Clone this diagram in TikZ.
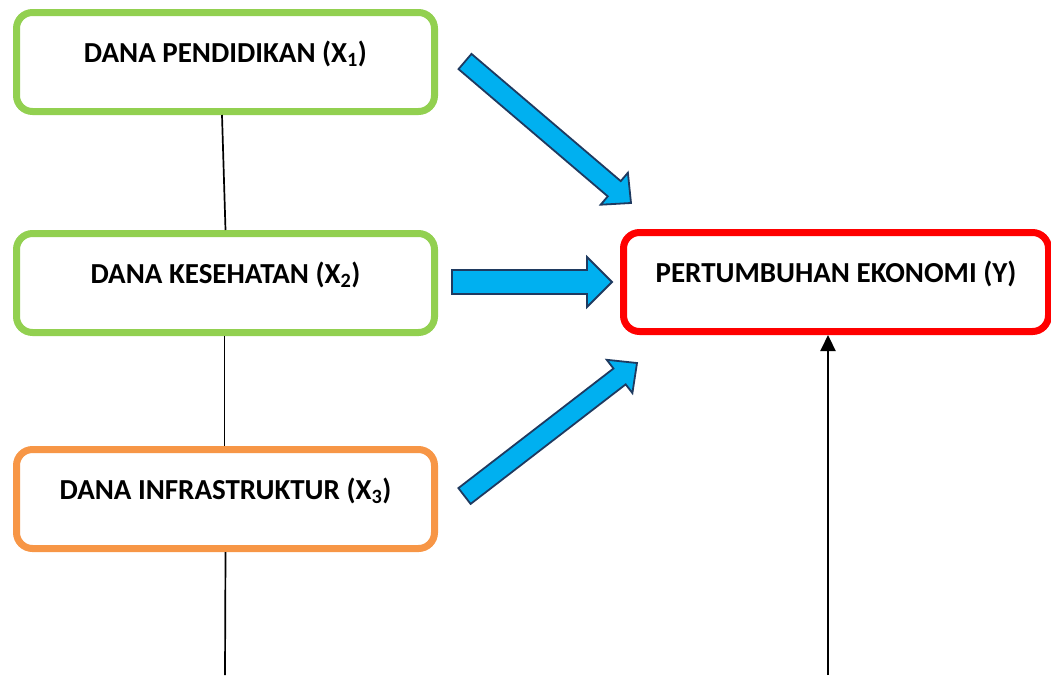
\documentclass[tikz,border=0pt]{standalone}
\usepackage{fontspec}
\setmainfont{Carlito}
\usetikzlibrary{arrows.meta,calc,positioning}

\definecolor{boxgreen}{HTML}{92D050}
\definecolor{boxorange}{HTML}{F79646}
\definecolor{arrowblue}{HTML}{00B0F0}
\definecolor{arrowedge}{HTML}{1F3A60}

\tikzset{
  varbox/.style={draw=#1, line width=7pt, rounded corners=16pt, fill=white,
    minimum width=418pt, minimum height=99pt, inner sep=0pt,
    text height=20pt, text depth=20pt,
    font=\fontsize{29}{34}\selectfont\bfseries},
  blockarrow/.style={draw=arrowedge, fill=arrowblue, line width=1.8pt, line join=miter},
  link/.style={line width=1.7pt},
}

% block arrow from #1 to #2: shaft half width #3, head half width #4, head length #5
\newcommand{\blockarrow}[5]{%
  \coordinate (neck) at ($(#2)!#5!(#1)$);
  \draw[blockarrow] ($(#1)!#3!90:(#2)$) -- ($(neck)!#3!90:(#2)$)
    -- ($(neck)!#4!90:(#2)$) -- (#2) -- ($(neck)!#4!-90:(#2)$)
    -- ($(neck)!#3!-90:(#2)$) -- ($(#1)!#3!-90:(#2)$) -- cycle;}

\begin{document}
\begin{tikzpicture}[x=1pt,y=-1pt]
\useasboundingbox (0,0) rectangle (1051,675);

% variable boxes
\node[varbox=boxgreen] (pendidikan) at (225.5,62) {DANA PENDIDIKAN (X\textsubscript{1})};
\node[varbox=boxgreen] (kesehatan) at (225.5,283) {DANA KESEHATAN (X\textsubscript{2})};
\node[varbox=boxorange] (infra) at (225.5,499) {DANA INFRASTRUKTUR (X\textsubscript{3})};
\node[varbox=red, minimum width=425pt] (ekonomi) at (836,282) {PERTUMBUHAN EKONOMI (Y)};

% thin links between the boxes
\draw[link] ([xshift=-3.5pt]pendidikan.south) -- (kesehatan.north);
\draw[link] ([xshift=-1pt]kesehatan.south) -- ([xshift=-1pt]infra.north);
\coordinate (infraend) at (225,675);
\draw[link] (infra.south) -- (infraend);

% arrow from below into Y
\coordinate (ekonomifoot) at (828,675);
\draw[line width=2.2pt, -{Triangle[width=15pt,length=16pt]}] (ekonomifoot) -- (ekonomifoot |- ekonomi.south);

% blue block arrows
\coordinate (a1tail) at (465,61.5);
\coordinate (a1tip) at (631,203);
\coordinate (a2tail) at (452,282);
\coordinate (a2tip) at (612,282);
\coordinate (a3tail) at (464.5,496);
\coordinate (a3tip) at (637,363);
\blockarrow{a1tail}{a1tip}{10pt}{21pt}{22pt}
\blockarrow{a2tail}{a2tip}{12pt}{25pt}{25pt}
\blockarrow{a3tail}{a3tip}{10pt}{21pt}{22pt}
\end{tikzpicture}
\end{document}
